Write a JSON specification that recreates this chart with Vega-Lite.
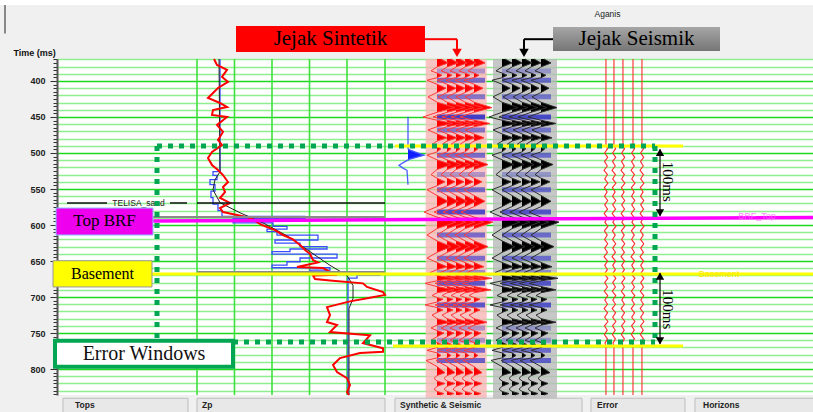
{
"$schema":"https://vega.github.io/schema/vega-lite/v6.json",
"width":756,"height":336,
"autosize":"none",
"padding":{"left":57,"top":59,"right":0,"bottom":17},
"background":"#f0f0f0",
"config":{"view":{"fill":"#ffffff","stroke":null},"text":{"font":"Liberation Sans"}},
"datasets":{
"syn":[{"t":369.5,"a":0.4,"p":0.4},{"t":375,"a":1.1,"p":1.1},{"t":380.5,"a":0,"p":0},{"t":386,"a":-0.6,"p":0},{"t":389,"a":0,"p":0},{"t":392,"a":0.5,"p":0.5},{"t":395.5,"a":0,"p":0},{"t":399,"a":-1.0,"p":0},{"t":404.5,"a":0,"p":0},{"t":410,"a":0.9,"p":0.9},{"t":416,"a":0,"p":0},{"t":422,"a":-0.9,"p":0},{"t":429.5,"a":0,"p":0},{"t":437,"a":1.8,"p":1.8},{"t":443.5,"a":0,"p":0},{"t":450,"a":-1.4,"p":0},{"t":454.5,"a":0,"p":0},{"t":459,"a":1.6,"p":1.6},{"t":463.5,"a":0,"p":0},{"t":468,"a":-0.9,"p":0},{"t":473.5,"a":0,"p":0},{"t":479,"a":1.0,"p":1.0},{"t":483.5,"a":0,"p":0},{"t":488,"a":-0.5,"p":0},{"t":491,"a":0,"p":0},{"t":494,"a":0.4,"p":0.4},{"t":498.5,"a":0,"p":0},{"t":503,"a":-1.0,"p":0},{"t":509.5,"a":0,"p":0},{"t":516,"a":1.4,"p":1.4},{"t":523,"a":0,"p":0},{"t":530,"a":-0.6,"p":0},{"t":535,"a":0,"p":0},{"t":540,"a":0.8,"p":0.8},{"t":545.5,"a":0,"p":0},{"t":551,"a":-1.0,"p":0},{"t":559,"a":0,"p":0},{"t":567,"a":1.1,"p":1.1},{"t":574.5,"a":0,"p":0},{"t":582,"a":-1.3,"p":0},{"t":589,"a":0,"p":0},{"t":596,"a":1.9,"p":1.9},{"t":605,"a":0,"p":0},{"t":614,"a":-1.0,"p":0},{"t":622,"a":0,"p":0},{"t":630,"a":1.4,"p":1.4},{"t":638,"a":0,"p":0},{"t":646,"a":-1.0,"p":0},{"t":652,"a":0,"p":0},{"t":658,"a":1.0,"p":1.0},{"t":662,"a":0,"p":0},{"t":666,"a":-0.7,"p":0},{"t":670,"a":0,"p":0},{"t":674,"a":1.8,"p":1.8},{"t":677.5,"a":0,"p":0},{"t":681,"a":-1.2,"p":0},{"t":685.5,"a":0,"p":0},{"t":690,"a":1.7,"p":1.7},{"t":694,"a":0,"p":0},{"t":698,"a":-0.5,"p":0},{"t":700.5,"a":0,"p":0},{"t":703,"a":0.6,"p":0.6},{"t":707,"a":0,"p":0},{"t":711,"a":-1.2,"p":0},{"t":714.5,"a":0,"p":0},{"t":718,"a":0.6,"p":0.6},{"t":721.5,"a":0,"p":0},{"t":725,"a":-0.5,"p":0},{"t":730,"a":0,"p":0},{"t":735,"a":1.3,"p":1.3},{"t":739,"a":0,"p":0},{"t":743,"a":-0.6,"p":0},{"t":746.5,"a":0,"p":0},{"t":750,"a":0.7,"p":0.7},{"t":755,"a":0,"p":0},{"t":760,"a":-0.6,"p":0},{"t":763,"a":0,"p":0},{"t":766,"a":0.5,"p":0.5},{"t":770,"a":0,"p":0},{"t":774,"a":-1.0,"p":0},{"t":777.5,"a":0,"p":0},{"t":781,"a":0.4,"p":0.4},{"t":784.5,"a":0,"p":0},{"t":788,"a":-1.1,"p":0},{"t":796.5,"a":0,"p":0},{"t":805,"a":0.8,"p":0.8},{"t":809,"a":0,"p":0},{"t":813,"a":-0.3,"p":0},{"t":816.5,"a":0,"p":0},{"t":820,"a":0.8,"p":0.8},{"t":824,"a":0,"p":0},{"t":828,"a":-0.3,"p":0},{"t":831,"a":0,"p":0},{"t":834,"a":0.7,"p":0.7},{"t":836,"a":0.3,"p":0.3}],
"seis":[{"t":369.5,"a":0.3,"p":0.3},{"t":375,"a":1.0,"p":1.0},{"t":380.5,"a":0,"p":0},{"t":386,"a":-0.6,"p":0},{"t":389,"a":0,"p":0},{"t":392,"a":0.5,"p":0.5},{"t":395.5,"a":0,"p":0},{"t":399,"a":-1.0,"p":0},{"t":404.5,"a":0,"p":0},{"t":410,"a":0.8,"p":0.8},{"t":416,"a":0,"p":0},{"t":422,"a":-0.9,"p":0},{"t":429.5,"a":0,"p":0},{"t":437,"a":1.6,"p":1.6},{"t":443.5,"a":0,"p":0},{"t":450,"a":-1.3,"p":0},{"t":454.5,"a":0,"p":0},{"t":459,"a":1.5,"p":1.5},{"t":463.5,"a":0,"p":0},{"t":468,"a":-0.9,"p":0},{"t":473.5,"a":0,"p":0},{"t":479,"a":1.1,"p":1.1},{"t":483.5,"a":0,"p":0},{"t":488,"a":-0.5,"p":0},{"t":491,"a":0,"p":0},{"t":494,"a":0.4,"p":0.4},{"t":498.5,"a":0,"p":0},{"t":503,"a":-1.0,"p":0},{"t":509.5,"a":0,"p":0},{"t":516,"a":1.2,"p":1.2},{"t":523,"a":0,"p":0},{"t":530,"a":-0.6,"p":0},{"t":535,"a":0,"p":0},{"t":540,"a":0.9,"p":0.9},{"t":545.5,"a":0,"p":0},{"t":551,"a":-1.0,"p":0},{"t":559,"a":0,"p":0},{"t":567,"a":1.0,"p":1.0},{"t":574.5,"a":0,"p":0},{"t":582,"a":-1.2,"p":0},{"t":589,"a":0,"p":0},{"t":596,"a":1.8,"p":1.8},{"t":605,"a":0,"p":0},{"t":614,"a":-1.0,"p":0},{"t":622,"a":0,"p":0},{"t":630,"a":1.3,"p":1.3},{"t":638,"a":0,"p":0},{"t":646,"a":-1.0,"p":0},{"t":652,"a":0,"p":0},{"t":658,"a":1.1,"p":1.1},{"t":662,"a":0,"p":0},{"t":666,"a":-0.7,"p":0},{"t":670,"a":0,"p":0},{"t":674,"a":1.7,"p":1.7},{"t":677.5,"a":0,"p":0},{"t":681,"a":-1.2,"p":0},{"t":685.5,"a":0,"p":0},{"t":690,"a":1.5,"p":1.5},{"t":694,"a":0,"p":0},{"t":698,"a":-0.5,"p":0},{"t":700.5,"a":0,"p":0},{"t":703,"a":0.6,"p":0.6},{"t":707,"a":0,"p":0},{"t":711,"a":-1.2,"p":0},{"t":714.5,"a":0,"p":0},{"t":718,"a":0.6,"p":0.6},{"t":721.5,"a":0,"p":0},{"t":725,"a":-0.5,"p":0},{"t":730,"a":0,"p":0},{"t":735,"a":1.5,"p":1.5},{"t":739,"a":0,"p":0},{"t":743,"a":-0.6,"p":0},{"t":746.5,"a":0,"p":0},{"t":750,"a":0.7,"p":0.7},{"t":755,"a":0,"p":0},{"t":760,"a":-0.6,"p":0},{"t":763,"a":0,"p":0},{"t":766,"a":0.5,"p":0.5},{"t":770,"a":0,"p":0},{"t":774,"a":-1.0,"p":0},{"t":777.5,"a":0,"p":0},{"t":781,"a":0.4,"p":0.4},{"t":784.5,"a":0,"p":0},{"t":788,"a":-1.1,"p":0},{"t":796.5,"a":0,"p":0},{"t":805,"a":0.9,"p":0.9},{"t":809,"a":0,"p":0},{"t":813,"a":-0.3,"p":0},{"t":816.5,"a":0,"p":0},{"t":820,"a":0.7,"p":0.7},{"t":824,"a":0,"p":0},{"t":828,"a":-0.3,"p":0},{"t":831,"a":0,"p":0},{"t":834,"a":0.7,"p":0.7},{"t":836,"a":0.3,"p":0.3}],
"bands":[{"panel":"syn","t":386,"amp":0.6,"u":380,"u2":428},{"panel":"syn","t":399,"amp":1.0,"u":380,"u2":428},{"panel":"syn","t":422,"amp":0.9,"u":380,"u2":428},{"panel":"syn","t":450,"amp":1.4,"u":380,"u2":428},{"panel":"syn","t":468,"amp":0.9,"u":380,"u2":428},{"panel":"syn","t":503,"amp":1.0,"u":380,"u2":428},{"panel":"syn","t":530,"amp":0.6,"u":380,"u2":428},{"panel":"syn","t":551,"amp":1.0,"u":380,"u2":428},{"panel":"syn","t":582,"amp":1.3,"u":380,"u2":428},{"panel":"syn","t":614,"amp":1.0,"u":380,"u2":428},{"panel":"syn","t":646,"amp":1.0,"u":380,"u2":428},{"panel":"syn","t":666,"amp":0.7,"u":380,"u2":428},{"panel":"syn","t":681,"amp":1.2,"u":380,"u2":428},{"panel":"syn","t":711,"amp":1.2,"u":380,"u2":428},{"panel":"syn","t":743,"amp":0.6,"u":380,"u2":428},{"panel":"syn","t":760,"amp":0.6,"u":380,"u2":428},{"panel":"syn","t":774,"amp":1.0,"u":380,"u2":428},{"panel":"syn","t":788,"amp":1.1,"u":380,"u2":428},
{"panel":"seis","t":386,"amp":0.6,"u":445,"u2":494},{"panel":"seis","t":399,"amp":1.0,"u":445,"u2":494},{"panel":"seis","t":422,"amp":0.9,"u":445,"u2":494},{"panel":"seis","t":450,"amp":1.3,"u":445,"u2":494},{"panel":"seis","t":468,"amp":0.9,"u":445,"u2":494},{"panel":"seis","t":503,"amp":1.0,"u":445,"u2":494},{"panel":"seis","t":530,"amp":0.6,"u":445,"u2":494},{"panel":"seis","t":551,"amp":1.0,"u":445,"u2":494},{"panel":"seis","t":582,"amp":1.2,"u":445,"u2":494},{"panel":"seis","t":614,"amp":1.0,"u":445,"u2":494},{"panel":"seis","t":646,"amp":1.0,"u":445,"u2":494},{"panel":"seis","t":666,"amp":0.7,"u":445,"u2":494},{"panel":"seis","t":681,"amp":1.2,"u":445,"u2":494},{"panel":"seis","t":711,"amp":1.2,"u":445,"u2":494},{"panel":"seis","t":743,"amp":0.6,"u":445,"u2":494},{"panel":"seis","t":760,"amp":0.6,"u":445,"u2":494},{"panel":"seis","t":774,"amp":1.0,"u":445,"u2":494},{"panel":"seis","t":788,"amp":1.1,"u":445,"u2":494}],
"err":[{"t":369.5,"a":0},{"t":490,"a":0},{"t":494,"a":1},{"t":500,"a":-0.8},{"t":506,"a":1.1},{"t":512,"a":-0.9},{"t":518,"a":0.8},{"t":524,"a":-1.2},{"t":530,"a":0.9},{"t":536,"a":-0.8},{"t":542,"a":1.2},{"t":548,"a":-1},{"t":554,"a":0.7},{"t":560,"a":-0.9},{"t":566,"a":1.1},{"t":572,"a":-0.8},{"t":578,"a":1},{"t":584,"a":-1.1},{"t":590,"a":0.9},{"t":596,"a":-0.7},{"t":602,"a":1.2},{"t":608,"a":-1},{"t":614,"a":0.8},{"t":620,"a":-0.9},{"t":626,"a":1.1},{"t":632,"a":-0.8},{"t":638,"a":0.9},{"t":644,"a":-1.2},{"t":650,"a":1},{"t":656,"a":-0.8},{"t":662,"a":0.9},{"t":668,"a":-1},{"t":674,"a":1.2},{"t":680,"a":-0.8},{"t":686,"a":0.9},{"t":692,"a":-1},{"t":698,"a":1.1},{"t":704,"a":-0.7},{"t":710,"a":0.9},{"t":716,"a":-1.1},{"t":722,"a":1},{"t":728,"a":-0.8},{"t":734,"a":1.2},{"t":740,"a":-0.9},{"t":746,"a":0.8},{"t":752,"a":-1},{"t":758,"a":0.9},{"t":764,"a":-0.6},{"t":768,"a":0},{"t":836,"a":0}],
"zp_red":[{"t":369.5,"u":157},{"t":377.8,"u":160},{"t":384.7,"u":170},{"t":394.4,"u":165},{"t":401.4,"u":171},{"t":409.7,"u":161},{"t":423.6,"u":151},{"t":430.6,"u":163},{"t":436.1,"u":170},{"t":440.3,"u":156},{"t":447.2,"u":155},{"t":450,"u":170},{"t":461.1,"u":160},{"t":470.8,"u":166},{"t":481.9,"u":161},{"t":488.9,"u":165},{"t":498.6,"u":155},{"t":506.9,"u":151},{"t":516.7,"u":155},{"t":523.6,"u":161},{"t":530.6,"u":166},{"t":540.3,"u":171},{"t":547.2,"u":166},{"t":554.2,"u":168},{"t":562.5,"u":163},{"t":569.4,"u":173},{"t":576.4,"u":163},{"t":581.9,"u":166},{"t":586.1,"u":180},{"t":590.3,"u":193},{"t":600,"u":205},{"t":607,"u":218},{"t":613.9,"u":226},{"t":620,"u":236},{"t":627.8,"u":243},{"t":634.7,"u":248},{"t":640,"u":253},{"t":648.6,"u":256},{"t":652,"u":261},{"t":658.3,"u":240},{"t":659.7,"u":266},{"t":665,"u":273},{"t":669,"u":280},{"t":670,"u":256},{"t":675,"u":258},{"t":677,"u":273},{"t":681,"u":306},{"t":686,"u":310},{"t":693,"u":326},{"t":697,"u":328},{"t":701,"u":313},{"t":706,"u":293},{"t":714,"u":270},{"t":725,"u":273},{"t":734.7,"u":270},{"t":738.9,"u":280},{"t":748.6,"u":273},{"t":753,"u":313},{"t":763.9,"u":306},{"t":771,"u":326},{"t":776,"u":326},{"t":777.8,"u":303},{"t":784.7,"u":283},{"t":794.4,"u":276},{"t":804.2,"u":280},{"t":812.5,"u":290},{"t":822.2,"u":293},{"t":831.9,"u":290},{"t":836,"u":292}],
"zp_blue":[{"t":369.5,"u":163},{"t":526,"u":156},{"t":531,"u":160},{"t":537,"u":153},{"t":544,"u":158},{"t":553,"u":154},{"t":562,"u":156},{"t":571,"u":161},{"t":580,"u":165},{"t":588,"u":248},{"t":591,"u":176},{"t":597,"u":216},{"t":602,"u":230},{"t":605.6,"u":210},{"t":609.3,"u":220},{"t":614,"u":261},{"t":620.8,"u":218},{"t":625,"u":243},{"t":630,"u":270},{"t":633.3,"u":233},{"t":637,"u":215},{"t":640.3,"u":280},{"t":645.8,"u":243},{"t":651,"u":230},{"t":655.6,"u":215},{"t":659.3,"u":273},{"t":662.5,"u":253},{"t":666.7,"u":323},{"t":669.4,"u":300},{"t":673.6,"u":291},{"t":836,"u":291}],
"zp_black":[{"t":369.5,"u":162},{"t":526,"u":163},{"t":537,"u":158},{"t":551,"u":156},{"t":569,"u":163},{"t":583,"u":183},{"t":597,"u":206},{"t":615,"u":230},{"t":637,"u":253},{"t":656,"u":273},{"t":670,"u":290},{"t":684,"u":296},{"t":702,"u":296},{"t":716,"u":292},{"t":836,"u":292}]
},
"encoding":{"y":{"field":"t","type":"quantitative","scale":{"domain":[369.5,836],"reverse":true,"nice":false,"zero":false},
 "axis":{"values":[370,375,380,385,390,395,400,405,410,415,420,425,430,435,440,445,450,455,460,465,470,475,480,485,490,495,500,505,510,515,520,525,530,535,540,545,550,555,560,565,570,575,580,585,590,595,600,605,610,615,620,625,630,635,640,645,650,655,660,665,670,675,680,685,690,695,700,705,710,715,720,725,730,735,740,745,750,755,760,765,770,775,780,785,790,795,800,805,810,815,820,825,830,835],
 "labelExpr":"datum.value % 50 === 0 ? datum.label : ''","labelOverlap":false,"labelFont":"Liberation Sans","labelFontWeight":"bold","labelFontSize":9,"labelColor":"#222222","labelPadding":5,
 "tickColor":"#333333","tickSize":{"condition":{"test":"datum.value % 50 === 0","value":7},"value":4},"tickWidth":1,
 "domainColor":"#555555","domainWidth":2,
 "grid":true,"gridColor":{"condition":{"test":"datum.value % 50 === 0","value":"#1ed81e"},"value":"#8fef8f"},"gridOpacity":{"condition":{"test":"datum.value % 10 === 0","value":1},"value":0},"gridWidth":1.6,
 "title":"Time (ms)","titleAngle":0,"titleX":-44,"titleY":-7,"titleAlign":"left","titleBaseline":"middle","titleFont":"Liberation Sans","titleFontSize":9,"titleFontWeight":"bold","titleColor":"#111111"}}},
"resolve":{"scale":{"x":"independent"}},
"layer":[
{"encoding":{"x":{"field":"u","type":"quantitative","axis":null,"scale":{"domain":[0,756],"nice":false,"zero":false}}},
 "layer":[
  {"data":{"values":[{"track":"Synthetic","u":368.7,"u2":429.7,"t":369.5,"t2":843}]},"mark":{"type":"rect","fill":"#f7b5b5","opacity":0.8,"clip":false},"encoding":{"x2":{"field":"u2"},"y2":{"field":"t2"}}},
  {"data":{"values":[{"track":"Seismic","u":436,"u2":500,"t":369.5,"t2":843}]},"mark":{"type":"rect","fill":"#b9b9b9","opacity":0.8,"clip":false},"encoding":{"x2":{"field":"u2"},"y2":{"field":"t2"}}},
  {"data":{"values":[{"u":140,"t":369.5,"t2":836},{"u":177.5,"t":369.5,"t2":836},{"u":215,"t":369.5,"t2":836},{"u":252.5,"t":369.5,"t2":836},{"u":290,"t":369.5,"t2":836},{"u":328,"t":369.5,"t2":836}]},"mark":{"type":"rule","color":"#3ee03e","strokeWidth":1.6},"encoding":{"y2":{"field":"t2"}}},
  {"data":{"name":"zp_blue"},"mark":{"type":"line","color":"#3a4cff","strokeWidth":1.3,"interpolate":"step-before"},"encoding":{"order":{"field":"t","type":"quantitative"}}},
  {"data":{"name":"zp_black"},"mark":{"type":"line","color":"#222222","strokeWidth":1,"interpolate":"linear"},"encoding":{"order":{"field":"t","type":"quantitative"}}},
  {"data":{"name":"zp_red"},"mark":{"type":"line","color":"#ff0000","strokeWidth":2,"interpolate":"linear"},"encoding":{"order":{"field":"t","type":"quantitative"}}},
  {"data":{"values":[{"t":494,"u":351},{"t":496,"u":353},{"t":503,"u":367},{"t":509,"u":352},{"t":511,"u":351}]},"mark":{"type":"area","orient":"horizontal","color":"#1020ff"},"encoding":{"x2":{"datum":351}}},
  {"data":{"values":[{"t":449.6,"u":351},{"t":494,"u":351},{"t":496,"u":353},{"t":503,"u":367},{"t":509,"u":352},{"t":512,"u":348},{"t":517,"u":342},{"t":521,"u":346},{"t":524,"u":350},{"t":544,"u":351}]},"mark":{"type":"line","color":"#4a5cff","strokeWidth":1.3},"encoding":{"order":{"field":"t","type":"quantitative"}}}
 ]},
{"data":{"name":"syn"},"mark":{"type":"area","orient":"horizontal","color":"#ff0000"},"encoding":{"x":{"field":"p","type":"quantitative","axis":null,"scale":{"domain":[-38,37.6],"nice":false,"zero":false}},"x2":{"datum":0}}},
{"data":{"name":"syn"},"mark":{"type":"area","orient":"horizontal","color":"#ff0000"},"encoding":{"x":{"field":"p","type":"quantitative","axis":null,"scale":{"domain":[-39,36.6],"nice":false,"zero":false}},"x2":{"datum":0}}},
{"data":{"name":"syn"},"mark":{"type":"area","orient":"horizontal","color":"#ff0000"},"encoding":{"x":{"field":"p","type":"quantitative","axis":null,"scale":{"domain":[-39.9,35.7],"nice":false,"zero":false}},"x2":{"datum":0}}},
{"data":{"name":"syn"},"mark":{"type":"area","orient":"horizontal","color":"#ff0000"},"encoding":{"x":{"field":"p","type":"quantitative","axis":null,"scale":{"domain":[-40.8,34.8],"nice":false,"zero":false}},"x2":{"datum":0}}},
{"data":{"name":"syn"},"mark":{"type":"area","orient":"horizontal","color":"#ff0000"},"encoding":{"x":{"field":"p","type":"quantitative","axis":null,"scale":{"domain":[-41.7,33.9],"nice":false,"zero":false}},"x2":{"datum":0}}},
{"data":{"name":"seis"},"mark":{"type":"area","orient":"horizontal","color":"#000000"},"encoding":{"x":{"field":"p","type":"quantitative","axis":null,"scale":{"domain":[-44.5,31.1],"nice":false,"zero":false}},"x2":{"datum":0}}},
{"data":{"name":"seis"},"mark":{"type":"area","orient":"horizontal","color":"#000000"},"encoding":{"x":{"field":"p","type":"quantitative","axis":null,"scale":{"domain":[-45.5,30.1],"nice":false,"zero":false}},"x2":{"datum":0}}},
{"data":{"name":"seis"},"mark":{"type":"area","orient":"horizontal","color":"#000000"},"encoding":{"x":{"field":"p","type":"quantitative","axis":null,"scale":{"domain":[-46.5,29.1],"nice":false,"zero":false}},"x2":{"datum":0}}},
{"data":{"name":"seis"},"mark":{"type":"area","orient":"horizontal","color":"#000000"},"encoding":{"x":{"field":"p","type":"quantitative","axis":null,"scale":{"domain":[-47.4,28.2],"nice":false,"zero":false}},"x2":{"datum":0}}},
{"data":{"name":"seis"},"mark":{"type":"area","orient":"horizontal","color":"#000000"},"encoding":{"x":{"field":"p","type":"quantitative","axis":null,"scale":{"domain":[-48.4,27.2],"nice":false,"zero":false}},"x2":{"datum":0}}},
{"data":{"name":"bands"},"mark":{"type":"rule","color":"#3030c8","strokeWidth":5},"encoding":{"x":{"field":"u","type":"quantitative","axis":null,"scale":{"domain":[0,756],"nice":false,"zero":false}},"x2":{"field":"u2"},"opacity":{"field":"amp","type":"quantitative","scale":{"domain":[0.55,1.4],"range":[0.3,0.9]},"legend":null}}},
{"data":{"name":"syn"},"mark":{"type":"line","color":"#ff3a3a","strokeWidth":1},"encoding":{"x":{"field":"a","type":"quantitative","axis":null,"scale":{"domain":[-38,37.6],"nice":false,"zero":false}},"order":{"field":"t","type":"quantitative"}}},
{"data":{"name":"syn"},"mark":{"type":"line","color":"#ff3a3a","strokeWidth":1},"encoding":{"x":{"field":"a","type":"quantitative","axis":null,"scale":{"domain":[-39,36.6],"nice":false,"zero":false}},"order":{"field":"t","type":"quantitative"}}},
{"data":{"name":"syn"},"mark":{"type":"line","color":"#ff3a3a","strokeWidth":1},"encoding":{"x":{"field":"a","type":"quantitative","axis":null,"scale":{"domain":[-39.9,35.7],"nice":false,"zero":false}},"order":{"field":"t","type":"quantitative"}}},
{"data":{"name":"syn"},"mark":{"type":"line","color":"#ff3a3a","strokeWidth":1},"encoding":{"x":{"field":"a","type":"quantitative","axis":null,"scale":{"domain":[-40.8,34.8],"nice":false,"zero":false}},"order":{"field":"t","type":"quantitative"}}},
{"data":{"name":"syn"},"mark":{"type":"line","color":"#ff3a3a","strokeWidth":1},"encoding":{"x":{"field":"a","type":"quantitative","axis":null,"scale":{"domain":[-41.7,33.9],"nice":false,"zero":false}},"order":{"field":"t","type":"quantitative"}}},
{"data":{"name":"seis"},"mark":{"type":"line","color":"#303030","strokeWidth":1},"encoding":{"x":{"field":"a","type":"quantitative","axis":null,"scale":{"domain":[-44.5,31.1],"nice":false,"zero":false}},"order":{"field":"t","type":"quantitative"}}},
{"data":{"name":"seis"},"mark":{"type":"line","color":"#303030","strokeWidth":1},"encoding":{"x":{"field":"a","type":"quantitative","axis":null,"scale":{"domain":[-45.5,30.1],"nice":false,"zero":false}},"order":{"field":"t","type":"quantitative"}}},
{"data":{"name":"seis"},"mark":{"type":"line","color":"#303030","strokeWidth":1},"encoding":{"x":{"field":"a","type":"quantitative","axis":null,"scale":{"domain":[-46.5,29.1],"nice":false,"zero":false}},"order":{"field":"t","type":"quantitative"}}},
{"data":{"name":"seis"},"mark":{"type":"line","color":"#303030","strokeWidth":1},"encoding":{"x":{"field":"a","type":"quantitative","axis":null,"scale":{"domain":[-47.4,28.2],"nice":false,"zero":false}},"order":{"field":"t","type":"quantitative"}}},
{"data":{"name":"seis"},"mark":{"type":"line","color":"#303030","strokeWidth":1},"encoding":{"x":{"field":"a","type":"quantitative","axis":null,"scale":{"domain":[-48.4,27.2],"nice":false,"zero":false}},"order":{"field":"t","type":"quantitative"}}},
{"data":{"name":"err"},"mark":{"type":"line","color":"#ff2a2a","strokeWidth":1.1},"encoding":{"x":{"field":"a","type":"quantitative","axis":null,"scale":{"domain":[-343.1,129.4],"nice":false,"zero":false}},"order":{"field":"t","type":"quantitative"}}},
{"data":{"name":"err"},"mark":{"type":"line","color":"#ff2a2a","strokeWidth":1.1},"encoding":{"x":{"field":"a","type":"quantitative","axis":null,"scale":{"domain":[-348.1,124.4],"nice":false,"zero":false}},"order":{"field":"t","type":"quantitative"}}},
{"data":{"name":"err"},"mark":{"type":"line","color":"#ff2a2a","strokeWidth":1.1},"encoding":{"x":{"field":"a","type":"quantitative","axis":null,"scale":{"domain":[-353.8,118.8],"nice":false,"zero":false}},"order":{"field":"t","type":"quantitative"}}},
{"data":{"name":"err"},"mark":{"type":"line","color":"#ff2a2a","strokeWidth":1.1},"encoding":{"x":{"field":"a","type":"quantitative","axis":null,"scale":{"domain":[-360,112.5],"nice":false,"zero":false}},"order":{"field":"t","type":"quantitative"}}},
{"data":{"name":"err"},"mark":{"type":"line","color":"#ff2a2a","strokeWidth":1.1},"encoding":{"x":{"field":"a","type":"quantitative","axis":null,"scale":{"domain":[-365.6,106.9],"nice":false,"zero":false}},"order":{"field":"t","type":"quantitative"}}},
{"encoding":{"x":{"field":"u","type":"quantitative","axis":null,"scale":{"domain":[0,756],"nice":false,"zero":false}}},
 "layer":[
  {"data":{"values":[{"t":285,"t2":294.4,"u":-60,"u2":760}]},"mark":{"type":"rect","fill":"#ffffff","clip":false},"encoding":{"x2":{"field":"u2"},"y2":{"field":"t2"}}},
  {"data":{"values":[{"t":294.4,"t2":334,"u":-52,"u2":-52}]},"mark":{"type":"rule","color":"#666666","strokeWidth":1.5,"clip":false},"encoding":{"x2":{"field":"u2"},"y2":{"field":"t2"}}},
  {"data":{"values":[{"t":589,"u":96,"u2":328},{"t":665.3,"u":140,"u2":328}]},"mark":{"type":"rule","color":"#8a8a8a","strokeWidth":2},"encoding":{"x2":{"field":"u2"}}},
  {"data":{"values":[{"t":569.4,"u":10,"u2":50},{"t":569.4,"u":113,"u2":130},{"t":569.4,"u":140,"u2":328}]},"mark":{"type":"rule","color":"#111111","strokeWidth":1.5},"encoding":{"x2":{"field":"u2"}}},
  {"data":{"values":[{"horizon":"BRF_Top","t":594.4,"t2":589.6,"u":95,"u2":756}]},"mark":{"type":"rule","color":"#ff00ff","strokeWidth":3.5},"encoding":{"x2":{"field":"u2"},"y2":{"field":"t2"}}},
  {"data":{"values":[{"t":668,"u":95,"u2":756},{"t":490.3,"u":338,"u2":626},{"t":768,"u":336,"u2":626}]},"mark":{"type":"rule","color":"#ffff00","strokeWidth":3},"encoding":{"x2":{"field":"u2"}}},
  {"data":{"values":[{"t":569.4,"u":81.5,"label":"TELISA_sand"}]},"mark":{"type":"text","fontSize":8.5,"color":"#222222","align":"center","baseline":"middle"},"encoding":{"text":{"field":"label"}}},
  {"data":{"values":[{"t":588,"u":700,"label":"BRF_Top"}]},"mark":{"type":"text","fontSize":9,"color":"#ff66ff","opacity":0.8,"align":"center","baseline":"middle"},"encoding":{"text":{"field":"label"}}},
  {"data":{"values":[{"t":667.5,"u":662,"label":"Basement"}]},"mark":{"type":"text","fontSize":9,"color":"#ffe600","align":"center","baseline":"middle"},"encoding":{"text":{"field":"label"}}},
  {"data":{"values":[{"t":490.3,"t2":490.3,"u":100,"u2":598},{"t":762.5,"t2":762.5,"u":176,"u2":598},{"t":490.3,"t2":762.5,"u":100,"u2":100},{"t":490.3,"t2":762.5,"u":598,"u2":598}]},"mark":{"type":"rule","color":"#00a651","strokeWidth":5,"strokeDash":[5,6],"strokeCap":"butt"},"encoding":{"x2":{"field":"u2"},"y2":{"field":"t2"}}},
  {"data":{"values":[{"t":495,"t2":587,"u":603},{"t":667,"t2":765,"u":603}]},"mark":{"type":"rule","color":"#000000","strokeWidth":1.2},"encoding":{"y2":{"field":"t2"}}},
  {"data":{"values":[{"t":499,"u":603},{"t":671,"u":603}]},"mark":{"type":"point","shape":"triangle-up","filled":true,"color":"#000000","opacity":1,"size":70},"encoding":{}},
  {"data":{"values":[{"t":583,"u":603},{"t":761,"u":603}]},"mark":{"type":"point","shape":"triangle-down","filled":true,"color":"#000000","opacity":1,"size":70},"encoding":{}},
  {"data":{"values":[{"t":540,"u":611,"label":"100ms"},{"t":717,"u":611,"label":"100ms"}]},"mark":{"type":"text","font":"Liberation Serif","fontSize":15,"angle":90,"color":"#000000","align":"center","baseline":"middle"},"encoding":{"text":{"field":"label"}}},
  {"data":{"values":[{"t":576.4,"t2":613.9,"u":-1,"u2":96}]},"mark":{"type":"rect","fill":"#ee00ee","stroke":"#8cc4ff","strokeWidth":1,"clip":false},"encoding":{"x2":{"field":"u2"},"y2":{"field":"t2"}}},
  {"data":{"values":[{"t":649.6,"t2":686,"u":-4,"u2":95}]},"mark":{"type":"rect","fill":"#ffff00","stroke":"#999999","strokeWidth":1,"clip":false},"encoding":{"x2":{"field":"u2"},"y2":{"field":"t2"}}},
  {"data":{"values":[{"t":760.7,"t2":796.8,"u":-2,"u2":176}]},"mark":{"type":"rect","fill":"#ffffff","stroke":"#00a651","strokeWidth":4,"clip":false},"encoding":{"x2":{"field":"u2"},"y2":{"field":"t2"}}},
  {"data":{"values":[{"t":595,"u":47.5,"label":"Top BRF"}]},"mark":{"type":"text","font":"Liberation Serif","fontSize":17,"color":"#000000","align":"center","baseline":"middle","clip":false},"encoding":{"text":{"field":"label"}}},
  {"data":{"values":[{"t":668,"u":45.5,"label":"Basement"}]},"mark":{"type":"text","font":"Liberation Serif","fontSize":16,"color":"#000000","align":"center","baseline":"middle","clip":false},"encoding":{"text":{"field":"label"}}},
  {"data":{"values":[{"t":779,"u":87,"label":"Error Windows"}]},"mark":{"type":"text","font":"Liberation Serif","fontSize":20,"color":"#111111","align":"center","baseline":"middle","clip":false},"encoding":{"text":{"field":"label"}}},
  {"data":{"values":[{"t":323.6,"t2":359.7,"u":179,"u2":368}]},"mark":{"type":"rect","fill":"#ff0000","clip":false},"encoding":{"x2":{"field":"u2"},"y2":{"field":"t2"}}},
  {"data":{"values":[{"t":325,"t2":358.3,"u":496,"u2":663}]},"mark":{"type":"rect","clip":false,"fill":{"gradient":"linear","x1":0,"y1":0,"x2":0,"y2":1,"stops":[{"offset":0,"color":"#a6a6a6"},{"offset":1,"color":"#767676"}]}},"encoding":{"x2":{"field":"u2"},"y2":{"field":"t2"}}},
  {"data":{"values":[{"t":342,"u":273.5,"label":"Jejak Sintetik"},{"t":342,"u":579.5,"label":"Jejak Seismik"}]},"mark":{"type":"text","font":"Liberation Serif","fontSize":21,"color":"#000000","align":"center","baseline":"middle","clip":false},"encoding":{"text":{"field":"label"}}},
  {"data":{"values":[{"t":342,"t2":342,"u":368,"u2":400},{"t":342,"t2":356,"u":400,"u2":400}]},"mark":{"type":"rule","color":"#ff0000","strokeWidth":2,"clip":false},"encoding":{"x2":{"field":"u2"},"y2":{"field":"t2"}}},
  {"data":{"values":[{"t":342,"t2":342,"u":467,"u2":496},{"t":342,"t2":356,"u":467,"u2":467}]},"mark":{"type":"rule","color":"#000000","strokeWidth":2,"clip":false},"encoding":{"x2":{"field":"u2"},"y2":{"field":"t2"}}},
  {"data":{"values":[{"t":361,"u":400}]},"mark":{"type":"point","shape":"triangle-down","filled":true,"color":"#ff0000","opacity":1,"size":90,"clip":false},"encoding":{}},
  {"data":{"values":[{"t":361,"u":467}]},"mark":{"type":"point","shape":"triangle-down","filled":true,"color":"#000000","opacity":1,"size":90,"clip":false},"encoding":{}},
  {"data":{"values":[{"t":307,"u":550.5,"label":"Aganis"}]},"mark":{"type":"text","fontSize":8.5,"color":"#222222","align":"center","baseline":"middle","clip":false},"encoding":{"text":{"field":"label"}}},
  {"data":{"values":[{"t":840.5,"t2":862,"u":6,"u2":131},{"t":840.5,"t2":862,"u":140,"u2":328},{"t":840.5,"t2":862,"u":338,"u2":525},{"t":840.5,"t2":862,"u":534,"u2":628},{"t":840.5,"t2":862,"u":638,"u2":758}]},"mark":{"type":"rect","fill":"#e8e8e8","stroke":"#bdbdbd","strokeWidth":1,"clip":false},"encoding":{"x2":{"field":"u2"},"y2":{"field":"t2"}}},
  {"data":{"values":[{"t":850,"u":18,"label":"Tops"},{"t":850,"u":145,"label":"Zp"},{"t":850,"u":343,"label":"Synthetic & Seismic"},{"t":850,"u":540,"label":"Error"},{"t":850,"u":646,"label":"Horizons"}]},"mark":{"type":"text","fontSize":8.5,"fontWeight":"bold","color":"#222222","align":"left","baseline":"middle","clip":false},"encoding":{"text":{"field":"label"}}}
 ]}
]
}
